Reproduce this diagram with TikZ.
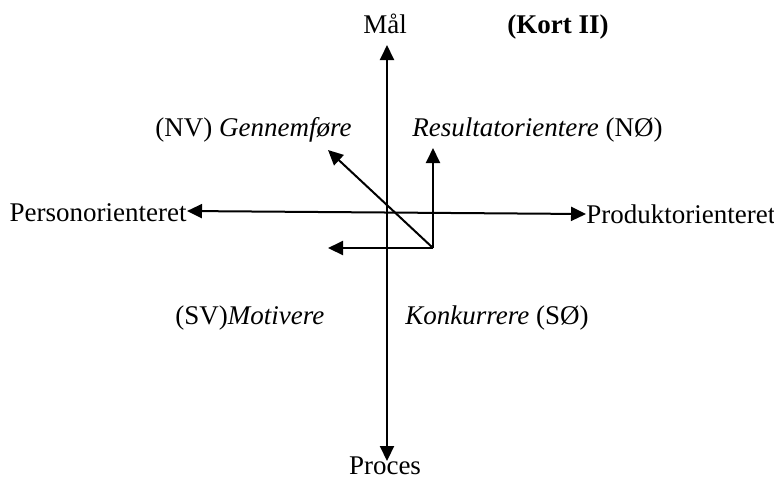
\documentclass[tikz,border=0pt]{standalone}
\usepackage{fontspec}
\setmainfont{Liberation Serif}
\usetikzlibrary{arrows.meta}
\begin{document}
\begin{tikzpicture}[x=0.5pt,y=-0.5pt,
  lbl/.style={inner sep=0pt,font=\fontsize{13.5}{16}\selectfont},
  tip/.tip={Triangle[length=7.5pt,width=7pt]},
  axis/.style={line width=1pt,-tip},
  axis2/.style={line width=1pt,tip-tip}]
\useasboundingbox (0,0) rectangle (774,479);
% labels
\node[lbl,anchor=base] (maal) at (385,33) {Mål};
\node[lbl,anchor=base,font=\fontsize{13.5}{16}\selectfont\bfseries] (kort) at (558,33) {(Kort II)};
\node[lbl,anchor=base west] (nv) at (155,136) {(NV) \textit{Gennemføre}};
\node[lbl,anchor=base west] (no) at (412,136) {\textit{Resultatorientere} (NØ)};
\node[lbl,anchor=base east] (person) at (187,221) {Personorienteret};
\node[lbl,anchor=base west] (produkt) at (586,223) {Produktorienteret};
\node[lbl,anchor=base west] (sv) at (175,324) {(SV)\textit{Motivere}};
\node[lbl,anchor=base west] (so) at (405,324) {\textit{Konkurrere} (SØ)};
\node[lbl,anchor=base] (proces) at (385,474) {Proces};
% axis ends
\coordinate (top) at (387,45);
\coordinate (bot) at (387,461);
\coordinate (left) at (187,211);
\coordinate (right) at (586,214);
\draw[axis2] (top) -- (bot);
\draw[axis2] (left) -- (right);
% centre arrows
\coordinate (c) at (433,248);
\coordinate (up) at (433,148);
\coordinate (lf) at (328,248);
\coordinate (dg) at (328,150);
\draw[axis] (c) -- (up);
\draw[axis] (c) -- (lf);
\draw[axis] (c) -- (dg);
\end{tikzpicture}
\end{document}
